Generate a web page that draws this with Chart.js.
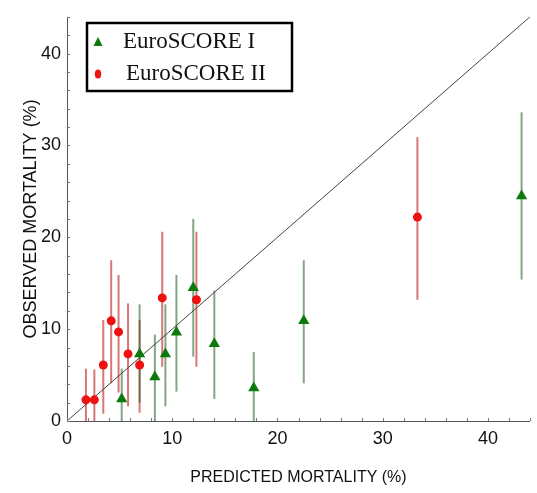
<!DOCTYPE html>
<html>
<head>
<meta charset="utf-8">
<script src="https://cdn.jsdelivr.net/npm/chart.js@4/dist/chart.umd.min.js"></script>
<style>
  html, body { margin: 0; padding: 0; background: #fff; }
  #wrap { width: 537px; height: 493px; }
</style>
</head>
<body>
<div id="wrap"><canvas id="chart"></canvas></div>
<script>
// EuroSCORE I: predicted vs observed mortality (%) with confidence limits
var predI  = [5.2, 6.9, 8.35, 9.35, 10.4, 12.0, 14.0, 17.75, 22.5, 43.2];
var obsI   = [2.4, 7.3, 4.8, 7.3, 9.65, 14.5, 8.4, 3.6, 10.9, 24.5];
var lowI   = [0, 2.0, 0, 1.6, 3.2, 7.0, 2.4, 0, 4.1, 15.4];
var highI  = [5.7, 12.7, 9.4, 12.7, 15.9, 22.0, 14.2, 7.5, 17.5, 33.6];

// EuroSCORE II
var predII = [1.8, 2.6, 3.45, 4.2, 4.9, 5.8, 6.9, 9.05, 12.3, 33.3];
var obsII  = [2.3, 2.3, 6.1, 10.9, 9.7, 7.3, 6.1, 13.4, 13.2, 22.2];
var lowII  = [0, 0, 0.8, 4.1, 3.1, 1.6, 0.9, 5.9, 5.9, 13.2];
var highII = [5.7, 5.6, 11.0, 17.5, 15.9, 12.8, 11.0, 20.6, 20.6, 30.9];

// line of identity
var diagX = [0, 44];
var axisMax = 44;

var seriesLabels = ["EuroSCORE I", "EuroSCORE II"];

function toPoints(xs, ys) {
    return xs.map(function(x, i) { return { x: x, y: ys[i] }; });
}

var errorBars = {
    id: 'errorBars',
    beforeDatasetsDraw: function(chart) {
        var ctx = chart.ctx;
        var xs = chart.scales.x, ys = chart.scales.y;
        var sets = [
            { x: predII, lo: lowII, hi: highII, color: 'rgba(200, 60, 60, 0.7)' },
            { x: predI, lo: lowI, hi: highI, color: 'rgba(50, 105, 50, 0.6)' }
        ];
        ctx.save();
        ctx.lineWidth = 2;
        sets.forEach(function(s) {
            ctx.strokeStyle = s.color;
            s.x.forEach(function(v, i) {
                var px = xs.getPixelForValue(v);
                ctx.beginPath();
                ctx.moveTo(px, ys.getPixelForValue(s.lo[i]));
                ctx.lineTo(px, ys.getPixelForValue(s.hi[i]));
                ctx.stroke();
            });
        });
        ctx.restore();
    }
};

var frame = {
    id: 'frame',
    afterDraw: function(chart) {
        var ctx = chart.ctx;
        var a = chart.chartArea;
        var xs = chart.scales.x, ys = chart.scales.y;
        ctx.save();
        // axis lines
        ctx.strokeStyle = '#555';
        ctx.lineWidth = 1;
        ctx.beginPath();
        ctx.moveTo(a.left + 0.5, a.top);
        ctx.lineTo(a.left + 0.5, a.bottom + 0.5);
        ctx.lineTo(a.right, a.bottom + 0.5);
        ctx.stroke();
        // small inward ticks
        ctx.strokeStyle = '#777';
        xs.ticks.forEach(function(t) {
            var px = Math.round(xs.getPixelForValue(t.value)) + 0.5;
            ctx.beginPath();
            ctx.moveTo(px, a.bottom);
            ctx.lineTo(px, a.bottom - 3);
            ctx.stroke();
        });
        ys.ticks.forEach(function(t) {
            var py = Math.round(ys.getPixelForValue(t.value)) + 0.5;
            ctx.beginPath();
            ctx.moveTo(a.left, py);
            ctx.lineTo(a.left + 3, py);
            ctx.stroke();
        });

        // legend box
        ctx.lineWidth = 2.5;
        ctx.strokeStyle = '#000';
        ctx.strokeRect(87, 23, 205, 68);
        // triangle marker
        ctx.fillStyle = '#0b7a0b';
        ctx.beginPath();
        ctx.moveTo(98, 37);
        ctx.lineTo(102.5, 46);
        ctx.lineTo(93.5, 46);
        ctx.closePath();
        ctx.fill();
        // circle marker
        ctx.fillStyle = '#ee1111';
        ctx.beginPath();
        ctx.ellipse(98, 74, 3.2, 4.5, 0, 0, Math.PI * 2);
        ctx.fill();
        ctx.fillStyle = '#111';
        ctx.font = '23px "Liberation Serif", "Times New Roman", serif';
        ctx.textBaseline = 'middle';
        ctx.fillText(seriesLabels[0], 123, 42);
        ctx.fillText(seriesLabels[1], 126, 74);
        ctx.restore();
    }
};

document.addEventListener("DOMContentLoaded", function() {
    var ctx = document.getElementById("chart").getContext('2d');
    var family = '"Liberation Sans Narrow", "Liberation Sans", Arial, sans-serif';
    var tickFont = { family: family, size: 18 };

    new Chart(ctx, {
        type: 'scatter',
        data: {
            datasets: [{
                type: 'line',
                label: 'identity',
                data: toPoints(diagX, diagX),
                borderColor: '#444',
                borderWidth: 1,
                pointRadius: 0,
                fill: false,
                order: 3
            }, {
                label: seriesLabels[1],
                data: toPoints(predII, obsII),
                pointStyle: 'circle',
                pointRadius: 4.5,
                backgroundColor: '#ee1111',
                borderColor: '#ee1111',
                borderWidth: 0,
                order: 2
            }, {
                label: seriesLabels[0],
                data: toPoints(predI, obsI),
                pointStyle: 'triangle',
                pointRadius: 6.5,
                backgroundColor: '#0b7a0b',
                borderColor: '#0b7a0b',
                borderWidth: 0,
                order: 1
            }]
        },
        options: {
            responsive: true,
            maintainAspectRatio: false,
            animation: false,
            layout: { padding: { left: 0, top: 10, right: 7, bottom: 0 } },
            plugins: {
                legend: { display: false },
                tooltip: { enabled: false }
            },
            scales: {
                x: {
                    type: 'linear',
                    min: 0,
                    max: axisMax,
                    border: { display: false },
                    grid: { display: false, drawTicks: false },
                    ticks: {
                        stepSize: 2,
                        autoSkip: false,
                        maxRotation: 0,
                        padding: 7,
                        color: '#111',
                        font: tickFont,
                        callback: function(v) { return v % 10 === 0 ? v : ''; }
                    },
                    title: {
                        display: true,
                        text: 'PREDICTED MORTALITY (%)',
                        color: '#111',
                        font: { family: family, size: 16 },
                        padding: { top: 0, bottom: 6 }
                    },
                    afterFit: function(scale) { scale.height = 72; }
                },
                y: {
                    type: 'linear',
                    min: 0,
                    max: axisMax,
                    border: { display: false },
                    grid: { display: false, drawTicks: false },
                    ticks: {
                        stepSize: 2,
                        autoSkip: false,
                        padding: 6,
                        color: '#111',
                        font: tickFont,
                        callback: function(v) { return v % 10 === 0 ? v : ''; }
                    },
                    title: {
                        display: true,
                        text: 'OBSERVED MORTALITY (%)',
                        color: '#111',
                        font: { family: family, size: 18 },
                        padding: { top: 20, bottom: 0 }
                    },
                    afterFit: function(scale) { scale.width = 67; }
                }
            }
        },
        plugins: [errorBars, frame]
    });
});
</script>
</body>
</html>
